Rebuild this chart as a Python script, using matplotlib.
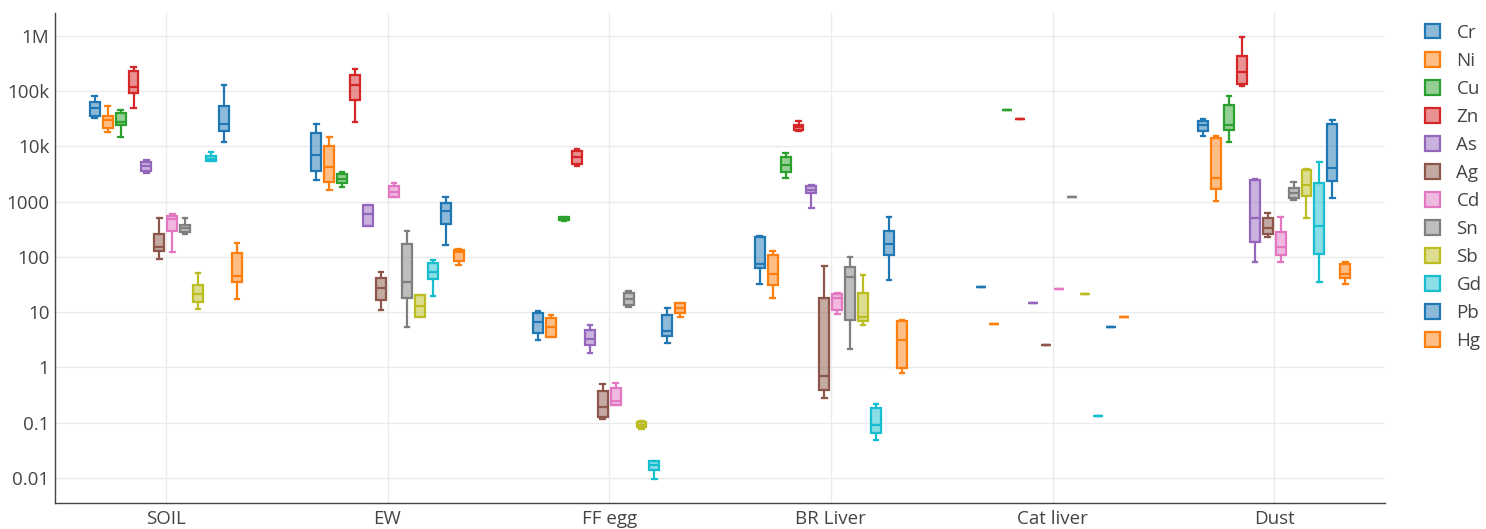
import matplotlib
matplotlib.use("Agg")
import matplotlib.pyplot as plt
from matplotlib.patches import Patch
from matplotlib.ticker import FixedLocator, NullLocator

plt.rcParams['font.family'] = ['Open Sans', 'DejaVu Sans']

categories = ['SOIL', 'EW', 'FF egg', 'BR Liver', 'Cat liver', 'Dust']
elements = ['Cr', 'Ni', 'Cu', 'Zn', 'As', 'Ag', 'Cd', 'Sn', 'Sb', 'Gd', 'Pb', 'Hg']
colors = ['#1f77b4', '#ff7f0e', '#2ca02c', '#d62728', '#9467bd', '#8c564b',
          '#e377c2', '#7f7f7f', '#bcbd22', '#17becf', '#1f77b4', '#ff7f0e']

y_ticks = [0.01, 0.1, 1, 10, 100, 1000, 1e4, 1e5, 1e6]
y_tick_labels = ['0.01', '0.1', '1', '10', '100', '1000', '10k', '100k', '1M']

# (whisker low, q1, median, q3, whisker high) per category
Cr = [(33e3, 35e3, 50e3, 63e3, 83e3), (2.5e3, 3.56e3, 7.1e3, 17.8e3, 26e3),
      (3.15, 4.2, 6.7, 9.8, 10.4), (32, 63, 75, 233, 240),
      (28.3, 28.3, 28.3, 28.3, 28.3), (15.3e3, 19.1e3, 24.5e3, 29e3, 31.5e3)]
Ni = [(18.5e3, 22e3, 30e3, 36e3, 55e3), (1.63e3, 2.3e3, 4.3e3, 10.2e3, 15e3),
      (3.5, 3.5, 5.3, 7.9, 8.8), (18, 31.5, 49, 110, 127),
      (6.1, 6.1, 6.1, 6.1, 6.1), (1.03e3, 1.7e3, 2.65e3, 14.4e3, 15.3e3)]
Cu = [(15e3, 24e3, 28e3, 40e3, 45e3), (1.87e3, 2.2e3, 2.6e3, 3.2e3, 3.4e3),
      (450, 460, 495, 520, 535), (2.7e3, 3.45e3, 4.7e3, 6.5e3, 7.7e3),
      (45.8e3, 45.8e3, 45.8e3, 45.8e3, 45.8e3), (11.9e3, 20e3, 24.5e3, 56e3, 83e3)]
Zn = [(49e3, 93e3, 120e3, 233e3, 275e3), (28e3, 69e3, 131e3, 200e3, 250e3),
      (4.4e3, 4.8e3, 6.4e3, 8.4e3, 9.1e3), (18.8e3, 19.9e3, 22.3e3, 24.8e3, 28.6e3),
      (31.8e3, 31.8e3, 31.8e3, 31.8e3, 31.8e3), (126e3, 137e3, 226e3, 430e3, 960e3)]
As = [(3.3e3, 3.6e3, 4.4e3, 5.3e3, 5.6e3), (364, 364, 600, 863, 885),
      (1.85, 2.52, 3.24, 4.77, 5.96), (771, 1.46e3, 1.63e3, 1.93e3, 2.04e3),
      (14.9, 14.9, 14.9, 14.9, 14.9), (82, 189, 514, 2.5e3, 2.58e3)]
Ag = [(91, 128, 152, 258, 500), (11, 17, 27, 42, 54),
      (0.116, 0.126, 0.195, 0.38, 0.50), (0.28, 0.39, 0.70, 18, 69),
      (2.52, 2.52, 2.52, 2.52, 2.52), (230, 264, 331, 514, 625)]
Cd = [(122, 296, 488, 560, 608), (1.2e3, 1.24e3, 1.5e3, 1.93e3, 2.16e3),
      (0.21, 0.21, 0.25, 0.43, 0.53), (9.3, 11, 18.1, 21.4, 22.6),
      (26.7, 26.7, 26.7, 26.7, 26.7), (80, 109, 152, 280, 530)]
Sn = [(264, 280, 339, 380, 515), (5.5, 18, 35, 172, 300),
      (12.3, 13.4, 17.1, 22, 24), (2.13, 7.2, 44, 65, 101),
      (1.23e3, 1.23e3, 1.23e3, 1.23e3, 1.23e3), (1.09e3, 1.18e3, 1.44e3, 1.8e3, 2.25e3)]
Sb = [(11.6, 15.5, 21, 31.5, 52), (8.1, 8.1, 13, 20.3, 20.8),
      (0.078, 0.083, 0.092, 0.103, 0.109), (6.0, 6.9, 8.3, 22.6, 46.7),
      (21.4, 21.4, 21.4, 21.4, 21.4), (514, 1.26e3, 2.0e3, 3.7e3, 3.9e3)]
Gd = [(5.5e3, 5.5e3, 5.9e3, 6.6e3, 7.9e3), (19.7, 40, 54, 79, 88),
      (0.0097, 0.014, 0.017, 0.020, 0.0206), (0.049, 0.064, 0.09, 0.185, 0.218),
      (0.131, 0.131, 0.131, 0.131, 0.131), (36, 115, 368, 2.18e3, 5.3e3)]
Pb = [(12.2e3, 19e3, 26e3, 55e3, 130e3), (163, 395, 672, 960, 1.24e3),
      (2.74, 3.7, 4.6, 8.8, 11.9), (38, 107, 172, 300, 524),
      (5.48, 5.48, 5.48, 5.48, 5.48), (1.18e3, 2.38e3, 4.0e3, 25.9e3, 29.8e3)]
Hg = [(17.4, 36, 46, 120, 182), (73, 86, 123, 134, 138),
      (8.3, 9.8, 11.9, 14.5, 14.9), (0.8, 0.98, 3.2, 7.0, 7.2),
      (8.1, 8.1, 8.1, 8.1, 8.1), (32, 42, 48.6, 76, 80)]

series = [Cr, Ni, Cu, Zn, As, Ag, Cd, Sn, Sb, Gd, Pb, Hg]

W, H = 1486, 529
fig = plt.figure(figsize=(W / 100, H / 100), dpi=100)
ax = fig.add_axes([55 / W, (H - 503) / H, (1385 - 55) / W, (503 - 13) / H])

n = len(elements)
slot = 0.7 / n
bw = slot * 0.77

for j, (name, data, col) in enumerate(zip(elements, series, colors)):
    stats = []
    for d in data:
        lo, q1, med, q3, hi = d
        stats.append(dict(whislo=lo, q1=q1, med=med, q3=q3, whishi=hi, fliers=[]))
    pos = [i + (j - (n - 1) / 2) * slot for i in range(len(categories))]
    bp = ax.bxp(stats, positions=pos, widths=bw, patch_artist=True,
                showfliers=False, capwidths=bw * 0.45, manage_ticks=False,
                boxprops=dict(facecolor=matplotlib.colors.to_rgba(col, 0.5),
                              edgecolor=col, linewidth=1.6),
                medianprops=dict(color=col, linewidth=1.6),
                whiskerprops=dict(color=col, linewidth=1.6),
                capprops=dict(color=col, linewidth=1.6))
    for b in bp['boxes']:
        b.set_zorder(3)

ax.set_yscale('log')
ax.set_ylim(10 ** -2.4525, 10 ** 6.416)
ax.set_xlim(-0.5, len(categories) - 0.5)
ax.yaxis.set_major_locator(FixedLocator(y_ticks))
ax.yaxis.set_minor_locator(NullLocator())
ax.set_yticklabels(y_tick_labels)
ax.set_xticks(range(len(categories)))
ax.set_xticklabels(categories)
ax.tick_params(axis='both', length=0, labelsize=13.5, colors='#444444')
ax.tick_params(axis='y', pad=4)
ax.tick_params(axis='x', pad=5)
ax.grid(True, color='#ebebeb', linewidth=1.0, zorder=0)
ax.set_axisbelow(True)
for s in ['top', 'right']:
    ax.spines[s].set_visible(False)
for s in ['left', 'bottom']:
    ax.spines[s].set_color('#444444')
    ax.spines[s].set_linewidth(1.0)

handles = [Patch(facecolor=matplotlib.colors.to_rgba(c, 0.5), edgecolor=c,
                 linewidth=1.6, label=e) for e, c in zip(elements, colors)]
leg = fig.legend(handles=handles, loc='upper left', bbox_to_anchor=(1417 / W, 1 - 16 / H),
                 frameon=False, fontsize=13.5, handlelength=0.85, handleheight=0.85,
                 handletextpad=0.85, labelspacing=0.535, borderaxespad=0)
for t in leg.get_texts():
    t.set_color('#444444')

fig.savefig('out.png', dpi=100)
